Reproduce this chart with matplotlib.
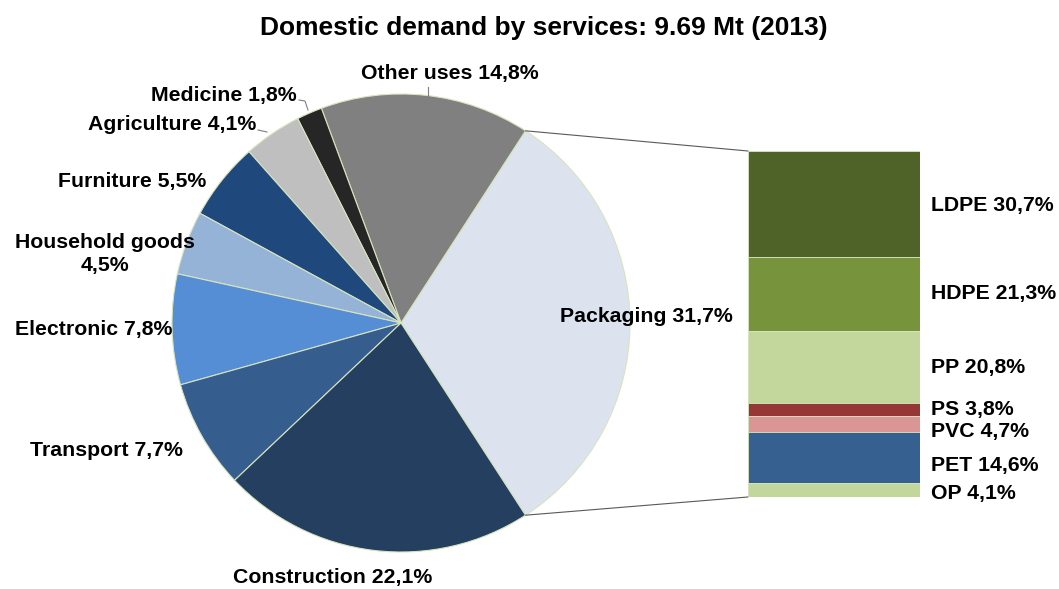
import numpy as np
import matplotlib.pyplot as plt
from matplotlib.patches import ConnectionPatch

plt.rcParams['font.family'] = ['Liberation Sans', 'DejaVu Sans']
plt.rcParams['font.weight'] = 'bold'

# services share of domestic demand, starting with packaging, counter-clockwise
services = ['Packaging', 'Other uses', 'Medicine', 'Agriculture', 'Furniture',
            'Household goods', 'Electronic', 'Transport', 'Construction']
service_share = [31.7, 14.8, 1.8, 4.1, 5.5, 4.5, 7.8, 7.7, 22.1]
service_colors = ['#dce3ef', '#808080', '#262626', '#bfbfbf', '#1f497d',
                  '#95b3d7', '#558ed5', '#355e8f', '#243f60']

# packaging breakdown, top to bottom
resins = ['LDPE', 'HDPE', 'PP', 'PS', 'PVC', 'PET', 'OP']
resin_share = [30.7, 21.3, 20.8, 3.8, 4.7, 14.6, 4.1]
resin_colors = ['#4f6228', '#77933c', '#c3d69b', '#953735', '#d99694',
                '#35608f', '#c3d69b']

W, H = 1059, 589
fig = plt.figure(figsize=(W / 100, H / 100), dpi=100)

# pie axes in pixel units
ax = fig.add_axes([0, 0, 1, 1])
cx, cy, r = 401, H - 323, 229
start = -service_share[0] * 3.6 / 2
ax.pie(service_share, colors=service_colors, startangle=start, counterclock=True,
       center=(cx, cy), radius=r, frame=True,
       wedgeprops=dict(edgecolor='#d7e4bd', linewidth=0.8))
ax.set_xlim(0, W)
ax.set_ylim(0, H)
ax.set_aspect('equal')
ax.axis('off')

def pct(v):
    return f'{v:.1f}'.replace('.', ',') + '%'

fs = 15.3
ax.text(544, H - 28, 'Domestic demand by services: 9.69 Mt (2013)', fontsize=19,
        fontweight='bold', ha='center', va='center')

# label anchors (x, y from top, alignment)
label_pos = {
    'Packaging': (560, 316, 'left'),
    'Other uses': (450, 73, 'center'),
    'Medicine': (297, 96, 'right'),
    'Agriculture': (256, 124, 'right'),
    'Furniture': (206, 181, 'right'),
    'Household goods': (105, 254, 'center'),
    'Electronic': (172, 330, 'right'),
    'Transport': (183, 451, 'right'),
    'Construction': (333, 577, 'center'),
}
for name, v in zip(services, service_share):
    x, y, ha = label_pos[name]
    txt = name + ('\n' if name == 'Household goods' else ' ') + pct(v)
    ax.text(x, H - y, txt, fontsize=fs, ha=ha, va='center', linespacing=1.3)

# leader lines for the small top slices
lc = dict(color='#7f7f7f', lw=0.8)
ax.plot([428, 428], [H - 87, H - 96], **lc)
ax.plot([299, 305, 308], [H - 100, H - 101, H - 110], **lc)
ax.plot([258, 267], [H - 130, H - 132], **lc)

# stacked bar for packaging
bx = fig.add_axes([748 / W, (H - 497) / H, 172 / W, 346 / H])
bx.set_xlim(0, 1)
bx.set_ylim(0, 100)
bx.axis('off')
tops = 100 - np.concatenate([[0], np.cumsum(resin_share)[:-1]])
bottoms = tops - np.array(resin_share)
bx.bar(0.5, resin_share, width=1, bottom=bottoms, color=resin_colors,
       edgecolor='#d7e4bd', linewidth=0.6)

label_y = [205, 294, 367, 409, 431, 465, 493]
for name, v, ly in zip(resins, resin_share, label_y):
    yy = (497 - ly) / 346 * 100
    bx.text((931 - 748) / 172, yy, f'{name} {pct(v)}', fontsize=fs,
            ha='left', va='center', clip_on=False)

# connectors from packaging slice to the bar
theta = np.deg2rad(service_share[0] * 3.6 / 2)
for sgn, by in [(1, 1), (-1, 0)]:
    p = (cx + r * np.cos(theta), cy + sgn * r * np.sin(theta))
    con = ConnectionPatch(xyA=p, coordsA=ax.transData, xyB=(0, by),
                          coordsB=bx.transAxes, color='#595959', lw=0.8)
    fig.add_artist(con)

fig.savefig('out.png', dpi=100)
